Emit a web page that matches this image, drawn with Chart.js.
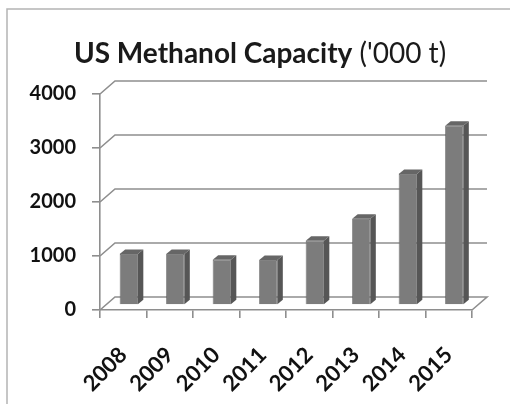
<!DOCTYPE html>
<html>
<head>
<meta charset="utf-8">
<script src="https://cdn.jsdelivr.net/npm/chart.js@4"></script>
<style>
  html, body { margin: 0; padding: 0; background: #fff; }
  #wrap { width: 510px; height: 404px; position: relative; }
</style>
</head>
<body>
<div id="wrap"><canvas id="c" width="510" height="404"></canvas></div>
<script>
const categories = ['2008', '2009', '2010', '2011', '2012', '2013', '2014', '2015'];
const capacity = [945, 945, 840, 835, 1190, 1595, 2425, 3320];
const yTicks = [0, 1000, 2000, 3000, 4000];
const titleBold = 'US Methanol Capacity';
const titleNormal = " ('000 t)";

const FONT = 'Lato, "Open Sans", sans-serif';
const WALL_DX = 15, WALL_DY = 13;   // back wall offset
const BAR_DX = 5.5, BAR_DY = 5;     // bar front plane offset
const SIDE_DX = 5.5, SIDE_DY = 4.5; // bar depth

const threeD = {
  id: 'threeD',
  beforeDraw(chart) {
    const ctx = chart.ctx;
    ctx.save();
    ctx.strokeStyle = '#b4b4b4';
    ctx.lineWidth = 1.5;
    ctx.beginPath();
    ctx.moveTo(7, 404); ctx.lineTo(7, 9); ctx.lineTo(510, 9);
    ctx.stroke();
    ctx.fillStyle = '#1a1a1a';
    ctx.textBaseline = 'alphabetic';
    ctx.font = 'bold 28px ' + FONT;
    const w1 = ctx.measureText(titleBold).width;
    ctx.font = '28px ' + FONT;
    const w2 = ctx.measureText(titleNormal).width;
    const x0 = 260 - (w1 + w2) / 2;
    ctx.font = 'bold 28px ' + FONT;
    ctx.fillText(titleBold, x0, 63);
    ctx.font = '28px ' + FONT;
    ctx.fillText(titleNormal, x0 + w1, 63);
    ctx.restore();
  },
  beforeDatasetsDraw(chart) {
    const ctx = chart.ctx;
    const ys = chart.scales.y;
    const a = chart.chartArea;
    ctx.save();
    ctx.strokeStyle = '#8e8e8e';
    ctx.lineWidth = 1.6;
    yTicks.forEach(v => {
      const y = ys.getPixelForValue(v);
      ctx.beginPath();
      ctx.moveTo(a.left, y);
      ctx.lineTo(a.left + WALL_DX, y - WALL_DY);
      ctx.lineTo(a.right + WALL_DX, y - WALL_DY);
      if (v === 0) {
        ctx.lineTo(a.right, y);
      }
      ctx.stroke();
    });
    ctx.restore();
    ctx.save();
    ctx.translate(BAR_DX, -BAR_DY);
  },
  afterDatasetsDraw(chart) {
    const ctx = chart.ctx;
    const meta = chart.getDatasetMeta(0);
    meta.data.forEach(bar => {
      const p = bar.getProps(['x', 'y', 'base', 'width'], true);
      const l = p.x - p.width / 2, r = p.x + p.width / 2;
      ctx.fillStyle = '#565656';
      ctx.beginPath();
      ctx.moveTo(r, p.y);
      ctx.lineTo(r + SIDE_DX, p.y - SIDE_DY);
      ctx.lineTo(r + SIDE_DX, p.base - SIDE_DY);
      ctx.lineTo(r, p.base);
      ctx.closePath();
      ctx.fill();
      ctx.fillStyle = '#666666';
      ctx.beginPath();
      ctx.moveTo(l, p.y);
      ctx.lineTo(l + SIDE_DX, p.y - SIDE_DY);
      ctx.lineTo(r + SIDE_DX, p.y - SIDE_DY);
      ctx.lineTo(r, p.y);
      ctx.closePath();
      ctx.fill();
    });
    ctx.restore();
  }
};

new Chart(document.getElementById('c'), {
  type: 'bar',
  data: {
    labels: categories,
    datasets: [{
      data: capacity,
      backgroundColor: '#7c7c7c',
      borderColor: '#5e5e5e',
      borderWidth: 0.8,
      barPercentage: 0.39,
      categoryPercentage: 1,
      clip: false
    }]
  },
  options: {
    responsive: false,
    animation: false,
    devicePixelRatio: 1,
    layout: { padding: { top: 94, right: 38, left: 0, bottom: 0 } },
    plugins: { legend: { display: false }, tooltip: { enabled: false }, title: { display: false } },
    scales: {
      x: {
        afterFit(s) { s.height = 94; },
        grid: { display: true, drawOnChartArea: false, drawTicks: true, tickLength: 8, color: '#8e8e8e', lineWidth: 1.6, offset: true },
        border: { display: true, color: '#8e8e8e', width: 1.6 },
        ticks: { minRotation: 45, maxRotation: 45, padding: 24, color: '#111', font: { family: FONT, size: 22, weight: 'bold' } }
      },
      y: {
        min: 0, max: 4000,
        afterFit(s) { s.width = 100; },
        afterBuildTicks(s) { s.ticks = yTicks.map(v => ({ value: v })); },
        grid: { display: true, drawOnChartArea: false, drawTicks: true, tickLength: 8, color: '#8e8e8e', lineWidth: 1.6 },
        border: { display: true, color: '#8e8e8e', width: 1.6 },
        ticks: { padding: 16, color: '#111', font: { family: FONT, size: 20, weight: 'bold' }, callback: v => String(v) }
      }
    }
  },
  plugins: [threeD]
});
</script>
</body>
</html>
